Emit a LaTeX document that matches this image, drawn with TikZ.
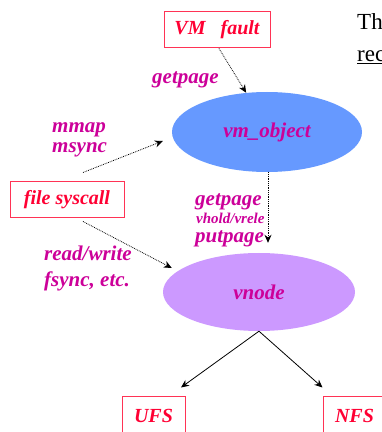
\documentclass[tikz,border=0pt]{standalone}
\usepackage{fontspec}
\setmainfont{Liberation Serif}
\usetikzlibrary{arrows.meta,shapes.geometric}
\definecolor{boxred}{HTML}{FF0033}
\definecolor{boxedge}{HTML}{FF3355}
\definecolor{lblmag}{HTML}{CC0099}
\definecolor{objblue}{HTML}{6699FF}
\definecolor{vnpurple}{HTML}{CC99FF}
\begin{document}
\begin{tikzpicture}[x=1pt,y=1pt,
  bi/.style={font=\fontsize{#1}{#1}\selectfont\bfseries\itshape},
  fsbox/.style={draw=boxedge, line width=1pt, text=boxred, bi=20, inner sep=0pt, minimum height=36pt},
  lbl/.style={text=lblmag, bi=21, inner sep=0pt, anchor=base west},
  smalllbl/.style={text=lblmag, bi=15, inner sep=0pt, anchor=base west},
  blob/.style={ellipse, draw=none, inner sep=0pt, text=lblmag, bi=21},
  dotarrow/.style={densely dotted, line width=0.8pt, -{Stealth[length=8pt,width=7pt]}},
  solidarrow/.style={line width=0.8pt, -{Stealth[length=8pt,width=7pt]}}
]
\useasboundingbox (0,0) rectangle (382,432);
\clip (0,0) rectangle (382,432);

% boxes
\node[fsbox, minimum width=106pt] (vmf) at (217,402) {VM\hspace{0.5em} fault};
\node[fsbox, minimum width=114pt] (fs) at (67,232) {file syscall};
\node[fsbox, minimum width=63pt, minimum height=38pt] (ufs) at (153.5,16) {UFS};
\node[fsbox, minimum width=63pt, minimum height=38pt] (nfs) at (354.5,16) {NFS};

% ellipses
\node[blob, fill=objblue, minimum width=190pt, minimum height=80pt] (vmo) at (267,300) {vm\_object};
\node[blob, fill=vnpurple, minimum width=192pt, minimum height=78pt] (vn) at (259,140) {vnode};

% labels
\node[lbl] (l1) at (152,348) {getpage};
\node[lbl] (l2) at (52,299) {mmap};
\node[lbl] (l3) at (52,279) {msync};
\node[lbl] (l4) at (195,226) {getpage};
\node[smalllbl] (l5) at (196,208) {vhold/vrele};
\node[lbl] (l6) at (195,189) {putpage};
\node[lbl] (l7) at (44,171) {read/write};
\node[lbl] (l8) at (44,145) {fsync, etc.};

% side text
\node[anchor=base west, inner sep=0pt, font=\fontsize{23}{23}\selectfont] (t1) at (357,402) {Th};
\node[anchor=base west, inner sep=0pt, font=\fontsize{23}{23}\selectfont] (t2) at (357,370) {\underline{rec}};

% connectors
\draw[dotarrow] ([xshift=2pt]vmf.south) -- (vmo.118);
\draw[dotarrow] ([xshift=16pt,yshift=9pt]fs.north) -- ([xshift=-9pt,yshift=-9pt]vmo.west);
\draw[dotarrow] ([xshift=16pt,yshift=-3pt]fs.south) -- ([xshift=9pt,yshift=24pt]vn.west);
\draw[dotarrow] ([xshift=1pt]vmo.south) -- ([xshift=9pt,yshift=10pt]vn.north);
\draw[solidarrow] (vn.south) -- ([xshift=27.5pt,yshift=9pt]ufs.north);
\draw[solidarrow] (vn.south) -- ([yshift=9pt]nfs.north west);
\end{tikzpicture}
\end{document}
